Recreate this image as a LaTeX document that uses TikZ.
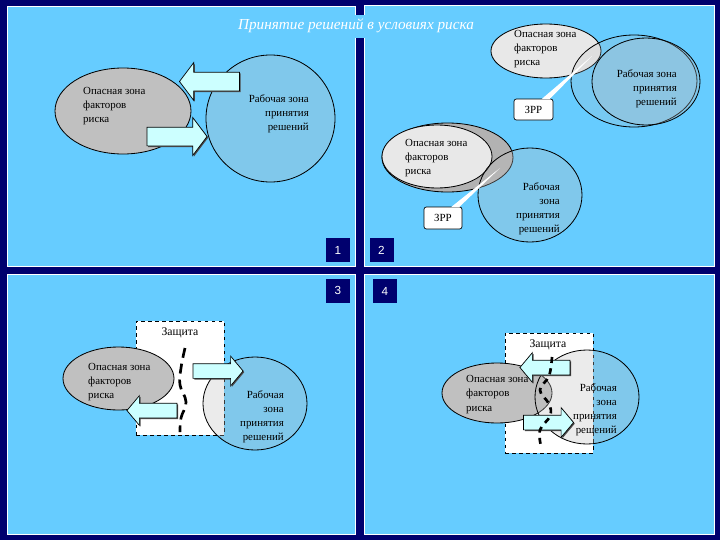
\documentclass[tikz,border=0pt]{standalone}
\usepackage{fontspec}
\setmainfont{Liberation Serif}
\setsansfont{Liberation Sans}
\usetikzlibrary{shapes.geometric, shapes.arrows, shadows, positioning}

\definecolor{navy}{RGB}{0,0,110}
\definecolor{panelblue}{RGB}{102,204,255}
\definecolor{zonegray}{RGB}{192,192,192}
\definecolor{zonelight}{RGB}{232,232,232}
\definecolor{zoneshade}{RGB}{178,178,178}
\definecolor{arrowcyan}{RGB}{204,255,255}

\newlength{\pxlen}
\setlength{\pxlen}{0.3mm}

\begin{document}
\begin{tikzpicture}[x=0.3mm, y=-0.3mm, >=latex,
    panel/.style={draw=white, line width=0.6pt, fill=panelblue},
    numbox/.style={fill=navy, text=white, font=\sffamily\fontsize{10}{12}\selectfont, minimum size=24\pxlen, inner sep=0pt},
    danger/.style={ellipse, draw=black, line width=0.7pt, fill=zonegray, inner sep=0pt},
    work/.style={ellipse, draw=black, line width=0.7pt, fill=lightgray, fill opacity=0.3, inner sep=0pt},
    zonetext/.style={font=\fontsize{9.3}{12}\selectfont, inner sep=0pt},
    lefttext/.style={zonetext, anchor=west, align=left},
    righttext/.style={zonetext, anchor=east, align=right},
    guard/.style={draw=black, dashed, fill=white, line width=0.6pt, inner sep=0pt},
    barrier/.style={line width=0.8mm, dash pattern=on 3mm off 1.8mm},
    blockarrow/.style={single arrow, draw=black, line width=0.6pt, fill=arrowcyan, inner xsep=0pt,
        drop shadow={shadow xshift=1pt, shadow yshift=-1pt, fill=black!70, opacity=1}},
    bigarrow/.style={blockarrow, minimum height=60\pxlen, inner ysep=9\pxlen, single arrow head extend=9.5\pxlen, single arrow tip angle=106},
    smallarrow/.style={blockarrow, minimum height=50\pxlen, inner ysep=7\pxlen, single arrow head extend=7.5\pxlen, single arrow tip angle=100},
    callbox/.style={draw=black, fill=white, rounded corners=2pt, line width=0.6pt, inner sep=0pt, font=\fontsize{9.3}{12}\selectfont}]

\fill[navy] (0,0) rectangle (720,540);
\useasboundingbox (0,0) rectangle (720,540);

% four panels
\draw[panel] (7,6) rectangle (355,266);
\draw[panel] (364,5) rectangle (714,266);
\draw[panel] (7,274) rectangle (355,534);
\draw[panel] (364,274) rectangle (714,534);

\node[fill=panelblue, text=white, font=\itshape\fontsize{13}{15}\selectfont, inner xsep=3pt, minimum height=23\pxlen] (title) at (356,26) {Принятие решений в условиях риска};

\node[numbox] (n1) at (338,250) {1};
\node[numbox] (n2) at (381.5,250) {2};
\node[numbox] (n3) at (338,290.5) {3};
\node[numbox] (n4) at (385,291) {4};

% panel 1
\node[work, minimum width=129\pxlen, minimum height=127\pxlen] (work1) at (270.5,118.5) {};
\node[danger, minimum width=136\pxlen, minimum height=86\pxlen] (danger1) at (123,111) {};
\node[lefttext] (dangerTxt1) at (83,106) {Опасная зона\\факторов\\риска};
\node[righttext] (workTxt1) at (309,113.5) {Рабочая зона\\принятия\\решений};
\node[bigarrow, shape border rotate=180] (toDanger1) at (213,81.5) {};
\node[bigarrow] (toWork1) at (173.5,136.5) {};

% panel 2, upper
\node[danger, fill=zonelight, minimum width=110\pxlen, minimum height=54\pxlen] (danger2a) at (546,51) {};
\node[work, fill opacity=0.2, minimum width=126\pxlen, minimum height=92\pxlen] (work2a) at (634,81) {};
\node[work, minimum width=108\pxlen, minimum height=87\pxlen] (work2b) at (646,81.5) {};
\node[lefttext] (dangerTxt2a) at (514,49) {Опасная зона\\факторов\\риска};
\node[righttext] (workTxt2a) at (677,89) {Рабочая зона\\принятия\\решений};
\node[callbox, minimum width=39\pxlen, minimum height=21\pxlen] (zrrUp) at (533.5,109.5) {ЗРР};
\coordinate (zrrUpTip) at (592,56);
\fill[white] ([xshift=8\pxlen, yshift=-0.5pt]zrrUp.north) -- (zrrUpTip) -- ([xshift=16\pxlen, yshift=-0.5pt]zrrUp.north) -- cycle;

% panel 2, lower
\node[danger, fill=zoneshade, minimum width=131\pxlen, minimum height=69\pxlen] (shade2b) at (447.5,157.5) {};
\node[danger, fill=zonelight, minimum width=110\pxlen, minimum height=63\pxlen] (danger2b) at (437,156.5) {};
\node[work, minimum width=104\pxlen, minimum height=94\pxlen] (work2c) at (530,195) {};
\node[lefttext] (dangerTxt2b) at (405,158) {Опасная зона\\факторов\\риска};
\node[righttext] (workTxt2b) at (560,208.5) {Рабочая\\зона\\принятия\\решений};
\node[callbox, minimum width=38\pxlen, minimum height=22\pxlen] (zrrLow) at (443,218) {ЗРР};
\coordinate (zrrLowTip) at (500,168);
\fill[white] ([xshift=8\pxlen, yshift=-0.5pt]zrrLow.north) -- (zrrLowTip) -- ([xshift=16\pxlen, yshift=-0.5pt]zrrLow.north) -- cycle;

% panel 3
\node[guard, minimum width=88\pxlen, minimum height=114\pxlen] (guard3) at (180,378) {};
\node[zonetext, font=\fontsize{10}{12}\selectfont] (guardTxt3) at (180,333) {Защита};
\node[danger, minimum width=111\pxlen, minimum height=63\pxlen] (danger3) at (118.5,378.5) {};
\node[work, minimum width=104\pxlen, minimum height=93\pxlen] (work3) at (255,403.5) {};
\node[lefttext] (dangerTxt3) at (88,382) {Опасная зона\\факторов\\риска};
\node[righttext] (workTxt3) at (284,417) {Рабочая\\зона\\принятия\\решений};
\node[smallarrow] (toWork3) at (215,371) {};
\node[smallarrow, shape border rotate=180] (toDanger3) at (155,410.5) {};
\draw[barrier] plot[smooth, tension=0.7] coordinates {(185,348) (181,368) (180,385) (186,402) (181,418) (180,432)};

% panel 4
\node[guard, minimum width=88\pxlen, minimum height=120\pxlen] (guard4) at (549,393) {};
\node[zonetext, font=\fontsize{10}{12}\selectfont] (guardTxt4) at (548,345) {Защита};
\node[danger, minimum width=110\pxlen, minimum height=60\pxlen] (danger4) at (497,393) {};
\node[work, minimum width=104\pxlen, minimum height=94\pxlen] (work4) at (587,397) {};
\node[lefttext] (dangerTxt4) at (466,394.5) {Опасная зона\\факторов\\риска};
\node[righttext] (workTxt4) at (617,409.5) {Рабочая\\зона\\принятия\\решений};
\node[smallarrow, shape border rotate=180] (toDanger4) at (548,367.5) {};
\node[smallarrow] (toWork4) at (545.5,422.5) {};
\draw[barrier, dash pattern=on 1.8mm off 1.6mm] plot[smooth, tension=0.7] coordinates {(552,357) (549,376) (540,390) (549,404) (550,416) (540,430) (541,446)};
\end{tikzpicture}
\end{document}
